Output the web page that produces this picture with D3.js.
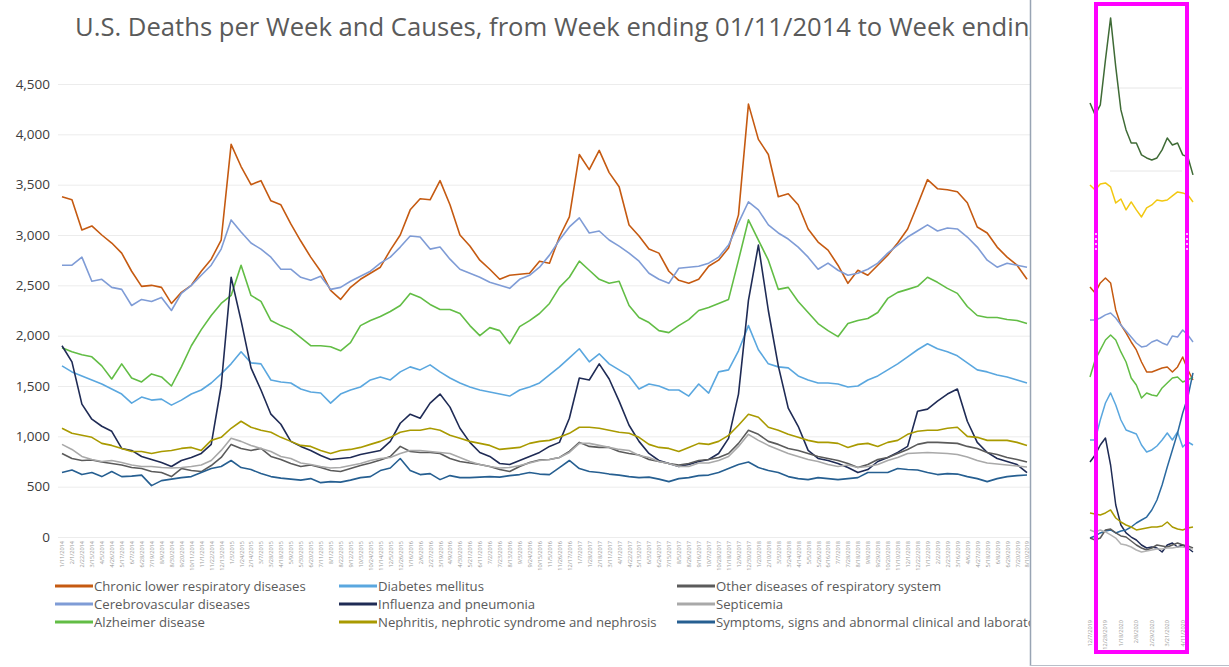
<!DOCTYPE html>
<html><head><meta charset="utf-8">
<script src="https://cdn.jsdelivr.net/npm/d3@7"></script>
<style>body{margin:0;background:#fff;} svg{display:block;}</style>
</head><body>
<svg id="c" width="1229" height="667"></svg>
<script>
// ---------- DATA ----------
const titleText = "U.S. Deaths per Week and Causes, from Week ending 01/11/2014 to Week ending 08/10/2019";
const titleVisible = "U.S. Deaths per Week and Causes, from Week ending 01/11/2014 to Week endin";
const startDate = "2014-01-11";
const stepDays = 21;
const nWeeks = 98;
const yTicks = [0, 500, 1000, 1500, 2000, 2500, 3000, 3500, 4000, 4500];

const seriesNames = [
  "Chronic lower respiratory diseases", "Cerebrovascular diseases", "Alzheimer disease",
  "Diabetes mellitus", "Influenza and pneumonia", "Nephritis, nephrotic syndrome and nephrosis",
  "Other diseases of respiratory system", "Septicemia", "Symptoms, signs and abnormal clinical and laboratory findings"
];
const seriesColors = ["#c55a11", "#7f9cd6", "#62bd45", "#5aa7df", "#1f2b55", "#a99a00", "#5b5b5b", "#a9a9a9", "#265f91"];

const clrd = [3380,3350,3050,3090,3000,2920,2820,2640,2490,2500,
  2480,2320,2430,2500,2640,2760,2950,3900,3680,3500,
  3540,3340,3300,3110,2940,2780,2640,2450,2360,2480,
  2560,2620,2680,2850,3000,3250,3360,3350,3540,3300,
  3000,2890,2750,2660,2560,2600,2610,2620,2740,2720,
  2980,3180,3800,3650,3840,3620,3480,3100,2990,2860,
  2820,2640,2550,2520,2560,2690,2750,2870,3200,4300,
  3950,3800,3380,3410,3300,3060,2930,2850,2700,2520,
  2650,2600,2700,2800,2920,3060,3300,3550,3460,3450,
  3430,3320,3080,3020,2880,2780,2700,2560];
const cerebro = [2700,2700,2780,2540,2560,2480,2460,2300,2360,2340,
  2380,2250,2420,2500,2600,2700,2860,3150,3030,2920,
  2860,2780,2660,2660,2580,2550,2590,2460,2480,2540,
  2590,2640,2720,2780,2880,2990,2980,2860,2880,2760,
  2660,2620,2580,2530,2500,2470,2560,2600,2680,2800,
  2950,3080,3170,3020,3040,2950,2890,2820,2740,2620,
  2560,2520,2670,2680,2690,2720,2780,2900,3120,3330,
  3250,3100,3020,2960,2880,2780,2660,2720,2650,2600,
  2620,2660,2720,2820,2900,2980,3040,3100,3040,3070,
  3060,2980,2880,2750,2680,2720,2700,2680];
const alzheimer = [1880,1840,1810,1790,1700,1570,1720,1580,1540,1620,
  1590,1500,1690,1900,2060,2200,2320,2400,2700,2400,
  2340,2150,2100,2060,1980,1900,1900,1890,1850,1930,
  2100,2150,2190,2240,2300,2420,2380,2310,2260,2260,
  2220,2100,2000,2080,2050,1920,2090,2150,2220,2320,
  2480,2580,2740,2650,2560,2520,2540,2300,2180,2130,
  2050,2030,2100,2160,2250,2280,2320,2360,2750,3150,
  2950,2750,2460,2480,2340,2230,2120,2050,1990,2120,
  2150,2170,2230,2370,2430,2460,2490,2580,2530,2470,
  2420,2290,2200,2180,2180,2160,2150,2120];
const diabetes = [1700,1640,1600,1560,1520,1470,1420,1330,1390,1360,
  1370,1310,1360,1420,1460,1530,1620,1720,1840,1730,
  1720,1560,1540,1530,1470,1440,1430,1330,1420,1460,
  1490,1560,1590,1560,1640,1690,1660,1710,1640,1580,
  1530,1490,1460,1440,1420,1400,1460,1490,1530,1610,
  1690,1780,1870,1740,1820,1720,1660,1600,1470,1520,
  1500,1460,1460,1400,1520,1430,1640,1660,1850,2100,
  1860,1720,1690,1680,1600,1560,1530,1530,1520,1490,
  1500,1560,1600,1660,1720,1790,1860,1920,1870,1840,
  1800,1730,1660,1640,1610,1590,1560,1530];
const influenza = [1900,1740,1320,1170,1100,1050,880,860,800,770,
  740,700,760,790,830,920,1500,2580,2150,1680,
  1460,1220,1120,950,900,860,810,770,780,790,
  820,840,860,950,1130,1220,1180,1330,1420,1290,
  1080,940,840,800,730,720,760,800,840,900,
  940,1180,1580,1560,1720,1570,1350,1110,950,830,
  760,730,700,720,750,770,830,980,1420,2350,
  2900,2250,1700,1280,1100,860,780,760,730,690,
  640,670,750,790,840,900,1250,1270,1350,1420,
  1470,1150,940,840,780,750,720,640];
const nephritis = [1080,1030,1010,990,930,910,880,850,850,830,
  850,860,880,890,860,960,990,1080,1150,1090,
  1060,1040,990,950,910,900,860,830,860,870,
  890,920,950,990,1040,1060,1060,1080,1060,1010,
  980,950,930,910,870,880,890,930,950,960,
  990,1030,1090,1090,1080,1060,1040,1030,990,920,
  890,880,850,890,930,920,950,1010,1110,1220,
  1190,1090,1060,1020,990,960,940,940,930,890,
  920,930,900,940,960,1020,1050,1060,1060,1080,
  1090,1000,990,960,960,960,940,910];
const otherResp = [830,780,760,765,745,730,715,690,680,650,
  640,600,680,660,650,710,790,920,880,860,
  880,800,770,730,700,715,690,660,650,680,
  710,735,765,800,900,850,840,840,830,780,
  750,735,720,700,670,650,700,740,765,770,
  790,850,940,900,890,890,850,830,815,770,
  750,730,715,730,760,770,790,830,930,1060,
  1020,950,920,880,860,830,800,780,760,730,
  690,720,770,790,830,870,920,940,940,935,
  930,900,880,840,820,790,770,745];
const septicemia = [920,870,800,770,750,760,740,715,700,700,
  690,685,690,700,715,760,860,980,950,910,
  880,850,800,780,735,720,700,685,690,710,
  730,760,780,790,830,860,860,850,840,830,
  790,750,720,700,685,690,710,735,760,770,
  790,840,930,930,910,890,870,860,810,790,
  750,730,700,700,735,735,760,800,900,1020,
  960,910,870,830,800,770,750,720,700,715,
  690,700,720,760,790,830,834,840,835,830,
  820,795,760,735,725,715,705,695];
const symptoms = [640,665,620,640,600,650,600,605,615,510,
  560,575,590,600,640,680,700,760,690,670,
  630,600,585,575,565,580,540,550,545,565,
  590,600,660,685,780,660,620,630,570,610,
  590,590,595,600,595,610,620,640,625,620,
  690,760,680,650,640,625,615,600,590,595,
  575,550,580,590,610,615,640,680,720,745,
  690,660,640,600,580,570,590,580,570,580,
  590,640,640,640,680,670,665,640,620,630,
  625,600,580,550,580,600,610,616];

// inset (cropped second chart on the right)
const insetStart = "2019-12-07";
const insetStepDays = 7;
const insetN = 21;
const insetGrid = [5000, 6000];
const insetNames = ["Series A", "Series B", "Chronic lower respiratory diseases", "Cerebrovascular diseases",
  "Alzheimer disease", "Diabetes mellitus", "Influenza and pneumonia", "Symptoms, signs and abnormal clinical and laboratory findings",
  "Nephritis, nephrotic syndrome and nephrosis", "Other diseases of respiratory system", "Septicemia"];
const insetColors = ["#3f6b36", "#f2c811", "#c55a11", "#7f9cd6", "#62bd45", "#5aa7df", "#1f2b55", "#2b6aa0", "#a99a00", "#5b5b5b", "#b3b3b3"];
const insetA = [5820,5676,5796,6338,6844,6254,5736,5495,5338,5338,5194,5157,5133,5157,5254,5398,5314,5338,5194,5169,4953];
const insetB = [4832,4772,4844,4856,4808,4615,4663,4531,4627,4531,4446,4555,4591,4651,4639,4651,4700,4748,4736,4712,4627];
const insetClrd = [3603,3531,3651,3711,3651,3326,3145,3049,2940,2844,2699,2579,2579,2603,2627,2639,2579,2639,2759,2603,2482];
const insetCerebro = [3205,3205,3229,3266,3290,3229,3145,3073,3000,2928,2880,2892,2940,2964,2928,2904,3013,3000,3085,3025,2940];
const insetAlz = [2518,2723,2844,2964,3025,2964,2820,2699,2506,2422,2265,2326,2302,2290,2386,2446,2506,2518,2458,2482,2518];
const insetDiab = [1759,1759,2000,2205,2326,2181,2000,1880,1856,1832,1699,1615,1639,1687,1759,1844,1759,1856,1675,1735,1699];
const insetFlu = [1494,1579,1699,1783,1458,976,735,639,590,554,494,458,470,458,410,494,518,470,494,458,410];
const insetSympt = [578,603,639,663,675,639,663,675,711,759,795,831,916,1036,1217,1434,1639,1844,2085,2277,2567];
const insetNeph = [880,868,856,880,916,819,771,735,711,675,687,699,711,711,723,771,711,687,675,699,711];
const insetOther = [578,554,578,675,687,639,603,590,542,494,458,434,458,494,482,470,494,518,494,482,458];
const insetSept = [675,651,675,651,615,578,506,494,470,434,410,422,434,446,446,458,458,470,470,458,446];

// ---------- DRAW ----------
const svg = d3.select("#c");
const FONT = "'Open Sans', 'Liberation Sans', sans-serif";
const fmtDate = d3.timeFormat("%-m/%-d/%Y");
const weeks = d3.range(nWeeks).map(i => d3.timeDay.offset(new Date(startDate + "T00:00:00"), i * stepDays));
const weekLabels = weeks.map(fmtDate);

const x = d3.scalePoint().domain(weekLabels).range([62, 1027]);
const y = d3.scaleLinear().domain([0, 4500]).range([537, 84]);

// gridlines
svg.append("g").selectAll("line").data(yTicks).join("line")
  .attr("x1", 58).attr("x2", 1030)
  .attr("y1", d => y(d) + 0.5).attr("y2", d => y(d) + 0.5)
  .attr("stroke", "#ececec").attr("stroke-width", 1);

// y axis
const yAxis = svg.append("g").attr("transform", "translate(50,0)")
  .call(d3.axisLeft(y).tickValues(yTicks).tickFormat(d3.format(",")).tickSize(0).tickPadding(0));
yAxis.select(".domain").remove();
yAxis.selectAll("text").attr("font-family", FONT).attr("font-size", 13.5).attr("fill", "#3c3c3c");

// x axis (tiny rotated dates)
const xAxis = svg.append("g").attr("transform", "translate(0,541)")
  .call(d3.axisBottom(x).tickSize(0).tickPadding(0));
xAxis.select(".domain").remove();
xAxis.selectAll("text")
  .attr("font-family", FONT).attr("font-size", 5.6).attr("fill", "#9a9a9a")
  .attr("text-anchor", "end").attr("dy", "0.35em").attr("dx", 0)
  .attr("transform", "rotate(-90)").attr("y", 0).attr("x", 0);

// lines
const seriesData = [clrd, cerebro, alzheimer, diabetes, influenza, nephritis, otherResp, septicemia, symptoms];
const line = d3.line().x((d, i) => x(weekLabels[i])).y(d => y(d)).curve(d3.curveLinear);
svg.append("g").selectAll("path").data(seriesData).join("path")
  .attr("d", d => line(d))
  .attr("fill", "none")
  .attr("stroke", (d, i) => seriesColors[i])
  .attr("stroke-width", 1.6)
  .attr("stroke-linejoin", "round");

// title
const title = svg.append("text").attr("x", 75).attr("y", 36)
  .attr("font-family", FONT).attr("fill", "#5a5a5a").attr("font-size", 24).text(titleVisible);
const tw = title.node().getComputedTextLength();
title.attr("font-size", 24 * 955 / tw).text(titleText);

// legend
const legCols = [55, 339, 677];
const legRows = [586, 604, 622];
const legG = svg.append("g");
const probe = legG.append("text").attr("font-family", FONT).attr("font-size", 12).text(seriesNames[0]);
const legSize = 12 * 212 / probe.node().getComputedTextLength();
probe.remove();
seriesNames.forEach((name, i) => {
  const col = Math.floor(i / 3), row = i % 3;
  const lx = legCols[col], ly = legRows[row];
  legG.append("line").attr("x1", lx).attr("x2", lx + 38).attr("y1", ly).attr("y2", ly)
    .attr("stroke", seriesColors[i]).attr("stroke-width", 3);
  legG.append("text").attr("x", lx + 39).attr("y", ly).attr("dy", "0.35em")
    .attr("font-family", FONT).attr("font-size", legSize).attr("fill", "#5a5a5a").text(name);
});

// ---------- INSET PANEL ----------
const panel = svg.append("g");
panel.append("rect").attr("x", 1030).attr("y", 0).attr("width", 199).attr("height", 667).attr("fill", "#fff");
panel.append("line").attr("x1", 1030.5).attr("x2", 1030.5).attr("y1", 0).attr("y2", 666)
  .attr("stroke", "#98a4b4").attr("stroke-width", 1.5);
panel.append("line").attr("x1", 1030).attr("x2", 1229).attr("y1", 665.5).attr("y2", 665.5)
  .attr("stroke", "#b8bec8").attr("stroke-width", 1);

const iWeeks = d3.range(insetN).map(i => fmtDate(d3.timeDay.offset(new Date(insetStart + "T00:00:00"), i * insetStepDays)));
const xi = d3.scalePoint().domain(iWeeks).range([1090, 1193]);
const yi = d3.scaleLinear().domain([0, 7000]).range([586, 5]);

panel.append("g").selectAll("line").data(insetGrid).join("line")
  .attr("x1", 1110).attr("x2", 1182)
  .attr("y1", d => yi(d)).attr("y2", d => yi(d))
  .attr("stroke", "#e6e6e6");

const insetData = [insetA, insetB, insetClrd, insetCerebro, insetAlz, insetDiab, insetFlu, insetSympt, insetNeph, insetOther, insetSept];
const iline = d3.line().x((d, i) => xi(iWeeks[i])).y(d => yi(d));
panel.append("g").selectAll("path").data(insetData).join("path")
  .attr("d", d => iline(d)).attr("fill", "none")
  .attr("stroke", (d, i) => insetColors[i]).attr("stroke-width", 1.5).attr("stroke-linejoin", "round");

// inset tiny axis labels
panel.append("g").selectAll("text").data(iWeeks.filter((d, i) => i % 3 === 0)).join("text")
  .attr("transform", d => `translate(${xi(d)},620) rotate(-90)`)
  .attr("text-anchor", "end").attr("dy", "0.35em")
  .attr("font-family", FONT).attr("font-size", 5.6).attr("fill", "#9a9a9a").text(d => d);

// magenta highlight box
panel.append("rect").attr("x", 1096).attr("y", 4).attr("width", 91).attr("height", 648)
  .attr("fill", "none").attr("stroke", "#ff00ff").attr("stroke-width", 4);
[1096, 1187].forEach(xx => panel.append("line").attr("x1", xx).attr("x2", xx).attr("y1", 233).attr("y2", 253)
  .attr("stroke", "#fff").attr("stroke-width", 1.5).attr("stroke-dasharray", "2,3"));
</script>
</body></html>
